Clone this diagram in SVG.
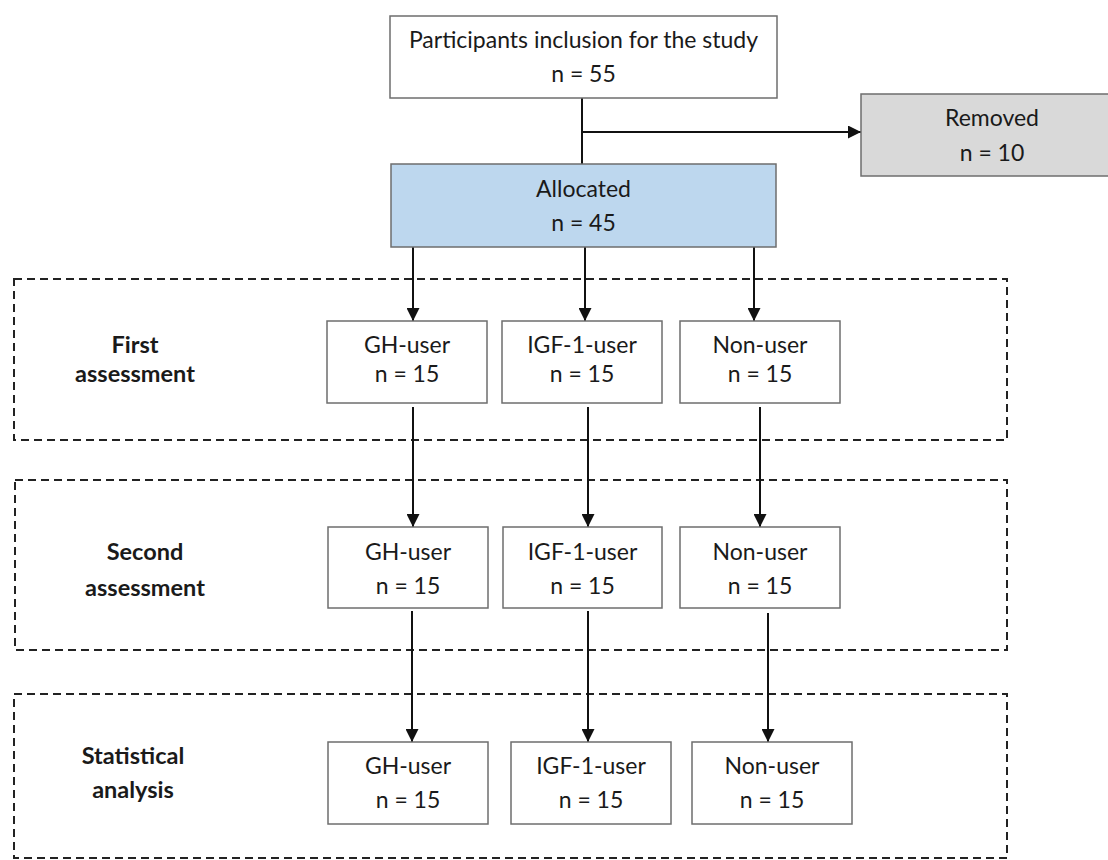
<svg xmlns="http://www.w3.org/2000/svg" width="1108" height="860" viewBox="0 0 1108 860">
<style>
  .bg { fill: #ffffff; }
  .box { fill: #ffffff; stroke: #6e6e6e; stroke-width: 1.5; }
  .alloc { fill: #BDD7EE; stroke: #6e6e6e; stroke-width: 1.5; }
  .removed { fill: #D9D9D9; stroke: #6e6e6e; stroke-width: 1.5; }
  .group { fill: none; stroke: #222222; stroke-width: 2; stroke-dasharray: 8 5; }
  .t { font-family: Lato, "Open Sans", "Liberation Sans", sans-serif; font-size: 23px; fill: #1a1a1a; text-anchor: middle; }
  .lbl { font-family: Lato, "Open Sans", "Liberation Sans", sans-serif; font-size: 23.5px; font-weight: bold; fill: #1a1a1a; text-anchor: middle; }
  .line { fill: none; stroke: #111111; stroke-width: 2; }
  .arrow { fill: none; stroke: #111111; stroke-width: 2; marker-end: url(#ah); }
</style>
<defs>
  <marker id="ah" markerUnits="userSpaceOnUse" markerWidth="13" markerHeight="13" viewBox="0 0 13 13" refX="13" refY="6.5" orient="auto">
    <path d="M0,0 L13,6.5 L0,13 Z" fill="#111111"/>
  </marker>
</defs>
<rect class="bg" x="0" y="0" width="1108" height="860"/>

<g id="stage-groups">
  <rect id="group-first" class="group" x="14" y="279" width="993" height="161"/>
  <rect id="group-second" class="group" x="15" y="480" width="992" height="170"/>
  <rect id="group-stat" class="group" x="14" y="694" width="993" height="164"/>
</g>

<g id="connectors">
  <line class="line" x1="582" y1="98" x2="582" y2="164"/>
  <line class="arrow" x1="582" y1="132" x2="861" y2="132"/>
  <line class="arrow" x1="413" y1="247" x2="413" y2="321"/>
  <line class="arrow" x1="585" y1="247" x2="585" y2="321"/>
  <line class="arrow" x1="754" y1="247" x2="754" y2="321"/>
  <line class="arrow" x1="413" y1="407" x2="413" y2="527"/>
  <line class="arrow" x1="588" y1="407" x2="588" y2="527"/>
  <line class="arrow" x1="760" y1="407" x2="760" y2="527"/>
  <line class="arrow" x1="412" y1="611" x2="412" y2="742"/>
  <line class="arrow" x1="588" y1="611" x2="588" y2="742"/>
  <line class="arrow" x1="768" y1="613" x2="768" y2="742"/>
</g>

<g id="participants">
  <rect class="box" x="390" y="16" width="387" height="82"/>
  <text class="t" x="583.5" y="48">Participants inclusion for the study</text>
  <text class="t" x="583.5" y="82">n = 55</text>
</g>

<g id="removed">
  <rect class="removed" x="861" y="94" width="264" height="82"/>
  <text class="t" x="992" y="126">Removed</text>
  <text class="t" x="992" y="161">n = 10</text>
</g>

<g id="allocated">
  <rect class="alloc" x="391" y="164" width="385" height="83"/>
  <text class="t" x="583.5" y="197">Allocated</text>
  <text class="t" x="583.5" y="231">n = 45</text>
</g>

<g id="label-first">
  <text class="lbl" x="135" y="353">First</text>
  <text class="lbl" x="135" y="382">assessment</text>
</g>
<g id="first-gh">
  <rect class="box" x="327" y="321" width="160" height="82"/>
  <text class="t" x="407" y="353">GH-user</text>
  <text class="t" x="407" y="382">n = 15</text>
</g>
<g id="first-igf">
  <rect class="box" x="502" y="321" width="160" height="82"/>
  <text class="t" x="582" y="353">IGF-1-user</text>
  <text class="t" x="582" y="382">n = 15</text>
</g>
<g id="first-non">
  <rect class="box" x="680" y="321" width="160" height="82"/>
  <text class="t" x="760" y="353">Non-user</text>
  <text class="t" x="760" y="382">n = 15</text>
</g>

<g id="label-second">
  <text class="lbl" x="145" y="560">Second</text>
  <text class="lbl" x="145" y="596">assessment</text>
</g>
<g id="second-gh">
  <rect class="box" x="328" y="527" width="160" height="81"/>
  <text class="t" x="408" y="560">GH-user</text>
  <text class="t" x="408" y="594">n = 15</text>
</g>
<g id="second-igf">
  <rect class="box" x="503" y="527" width="159" height="81"/>
  <text class="t" x="582.5" y="560">IGF-1-user</text>
  <text class="t" x="582.5" y="594">n = 15</text>
</g>
<g id="second-non">
  <rect class="box" x="680" y="527" width="160" height="81"/>
  <text class="t" x="760" y="560">Non-user</text>
  <text class="t" x="760" y="594">n = 15</text>
</g>

<g id="label-stat">
  <text class="lbl" x="133" y="764">Statistical</text>
  <text class="lbl" x="133" y="798">analysis</text>
</g>
<g id="stat-gh">
  <rect class="box" x="328" y="742" width="160" height="82"/>
  <text class="t" x="408" y="774">GH-user</text>
  <text class="t" x="408" y="808">n = 15</text>
</g>
<g id="stat-igf">
  <rect class="box" x="511" y="742" width="160" height="82"/>
  <text class="t" x="591" y="774">IGF-1-user</text>
  <text class="t" x="591" y="808">n = 15</text>
</g>
<g id="stat-non">
  <rect class="box" x="692" y="742" width="160" height="82"/>
  <text class="t" x="772" y="774">Non-user</text>
  <text class="t" x="772" y="808">n = 15</text>
</g>
</svg>
